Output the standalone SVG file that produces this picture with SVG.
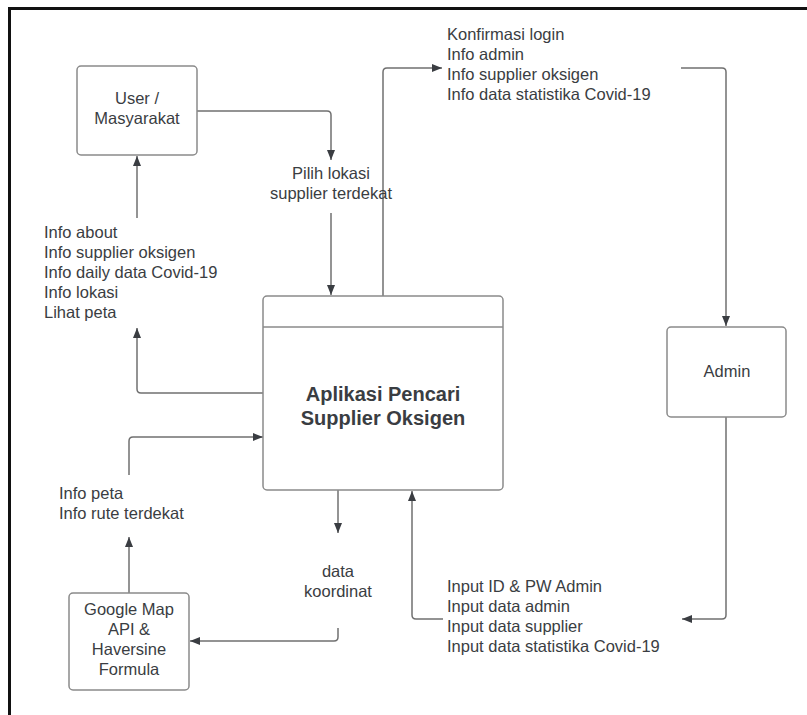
<svg xmlns="http://www.w3.org/2000/svg" width="807" height="715" viewBox="0 0 807 715">
<defs>
<marker id="ah" viewBox="0 0 10 10" refX="10" refY="5" markerWidth="10" markerHeight="10" markerUnits="userSpaceOnUse" orient="auto">
<path d="M0,1 L10,5 L0,9 Z" fill="#3a3d42"/>
</marker>
<style>
.frame{fill:none;stroke:#111;stroke-width:3}
.box{fill:#fff;stroke:#8a8a8a;stroke-width:1.5}
.ln{fill:none;stroke:#707070;stroke-width:1.5;stroke-linejoin:round}
.t{font-family:"Liberation Sans",Arial,sans-serif;font-size:16.5px;fill:#3a3d42}
.c{text-anchor:middle}
.b{font-weight:bold;font-size:20px}
</style>
</defs>
<rect width="807" height="715" fill="#fff"/>
<path class="frame" d="M9.5,715 V8.5 H807"/>

<g id="connectors">
<path class="ln" d="M197,111 H327 Q331,111 331,115 V160" marker-end="url(#ah)"/>
<path class="ln" d="M331,213 V295" marker-end="url(#ah)"/>
<path class="ln" d="M383,296 V72 Q383,68 387,68 H442" marker-end="url(#ah)"/>
<path class="ln" d="M681,68 H722 Q726,68 726,72 V326" marker-end="url(#ah)"/>
<path class="ln" d="M726,417 V615 Q726,619 722,619 H682" marker-end="url(#ah)"/>
<path class="ln" d="M443,619 H416 Q412,619 412,615 V491" marker-end="url(#ah)"/>
<path class="ln" d="M263,393 H141 Q137,393 137,389 V328" marker-end="url(#ah)"/>
<path class="ln" d="M137,218 V156" marker-end="url(#ah)"/>
<path class="ln" d="M129,475 V441 Q129,437 133,437 H263" marker-end="url(#ah)"/>
<path class="ln" d="M129,593 V537" marker-end="url(#ah)"/>
<path class="ln" d="M338,490 V533" marker-end="url(#ah)"/>
<path class="ln" d="M338,628 V637 Q338,641 334,641 H190" marker-end="url(#ah)"/>
</g>

<g id="user">
<rect class="box" x="77" y="66" width="120" height="89" rx="4"/>
<text class="t c" x="137" y="104">User /</text>
<text class="t c" x="137" y="124">Masyarakat</text>
</g>

<g id="app">
<rect class="box" x="263" y="296" width="240" height="194" rx="4"/>
<line class="box" x1="263" y1="327" x2="503" y2="327"/>
<text class="t c b" x="383" y="401">Aplikasi Pencari</text>
<text class="t c b" x="383" y="425">Supplier Oksigen</text>
</g>

<g id="admin">
<rect class="box" x="667" y="327" width="119" height="90" rx="4"/>
<text class="t c" x="727" y="377">Admin</text>
</g>

<g id="google">
<rect class="box" x="69" y="593" width="120" height="97" rx="4"/>
<text class="t c" x="129" y="615">Google Map</text>
<text class="t c" x="129" y="635">API &amp;</text>
<text class="t c" x="129" y="655">Haversine</text>
<text class="t c" x="129" y="675">Formula</text>
</g>

<g id="labels">
<text class="t c" x="331" y="179">Pilih lokasi</text>
<text class="t c" x="331" y="199">supplier terdekat</text>

<text class="t" x="447" y="40">Konfirmasi login</text>
<text class="t" x="447" y="60">Info admin</text>
<text class="t" x="447" y="80">Info supplier oksigen</text>
<text class="t" x="447" y="100">Info data statistika Covid-19</text>

<text class="t" x="44" y="238">Info about</text>
<text class="t" x="44" y="258">Info supplier oksigen</text>
<text class="t" x="44" y="278">Info daily data Covid-19</text>
<text class="t" x="44" y="298">Info lokasi</text>
<text class="t" x="44" y="318">Lihat peta</text>

<text class="t" x="59" y="499">Info peta</text>
<text class="t" x="59" y="519">Info rute terdekat</text>

<text class="t c" x="338" y="577">data</text>
<text class="t c" x="338" y="597">koordinat</text>

<text class="t" x="447" y="592">Input ID &amp; PW Admin</text>
<text class="t" x="447" y="612">Input data admin</text>
<text class="t" x="447" y="632">Input data supplier</text>
<text class="t" x="447" y="652">Input data statistika Covid-19</text>
</g>
</svg>
